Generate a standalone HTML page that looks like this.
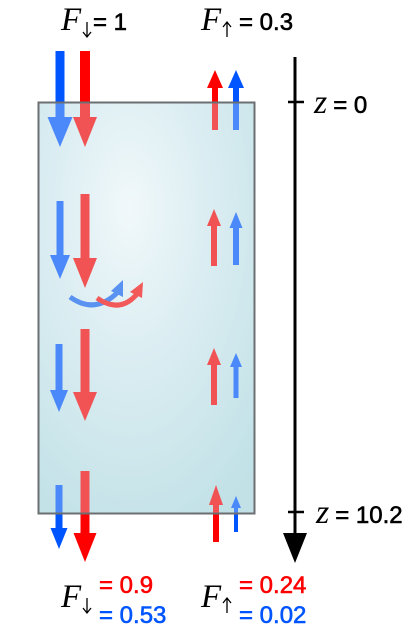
<!DOCTYPE html>
<html><head><meta charset="utf-8"><style>
html,body{margin:0;padding:0;background:#fff;width:415px;height:633px;overflow:hidden}
svg text{font-family:"Liberation Sans",sans-serif}
.b{stroke-width:0.6}
.f{font-family:"Liberation Serif",serif;font-style:italic}
</style></head><body>
<svg id="c" width="415" height="633" viewBox="0 0 415 633">
<defs>
<radialGradient id="g" cx="0.42" cy="0.26" r="0.85">
<stop offset="0" stop-color="#ffffff"/>
<stop offset="0.45" stop-color="#dceef2"/>
<stop offset="1" stop-color="#b5dce2"/>
</radialGradient>
</defs>
<rect x="38.5" y="102.5" width="216" height="411" fill="url(#g)"/>
<g id="arrows"></g>
<rect x="38.5" y="102.5" width="216" height="411" fill="#d8ecf0" fill-opacity="0.35" stroke="#6b6f72" stroke-width="2"/>
<g fill="none" stroke-width="5">
<path d="M70 297 Q95 315 118 292" stroke="#5a92f2"/>
<polygon points="123,280 111,291 123,297" fill="#5a92f2" stroke="none"/>
<path d="M97 298 Q120 314 137 294" stroke="#f25a5a"/>
<polygon points="143,282 130,292 142,298" fill="#f25a5a" stroke="none"/>
</g>
<g>
<line x1="295" y1="57" x2="295" y2="537" stroke="#000" stroke-width="3"/>
<polygon points="283,533 307,533 295,563" fill="#000"/>
<line x1="288" y1="102" x2="304" y2="102" stroke="#000" stroke-width="2.5"/>
<line x1="288" y1="512" x2="304" y2="512" stroke="#000" stroke-width="2.5"/>
<text x="314" y="113"><tspan class="f" font-size="34">z</tspan><tspan font-size="24" dx="6" class="b" stroke="#000">= 0</tspan></text>
<text x="316" y="523"><tspan class="f" font-size="34">z</tspan><tspan font-size="24" dx="6" class="b" stroke="#000">= 10.2</tspan></text>
</g>
<g stroke="#000" stroke-width="1.3" fill="none">
<path d="M87 22 V37 M83 32 L87 37 L91 32"/>
<path d="M227 37 V22 M223 27 L227 22 L231 27"/>
<path d="M87 598 V613 M83 608 L87 613 L91 608"/>
<path d="M227 613 V598 M223 603 L227 598 L231 603"/>
</g>
<g>
<text x="61" y="30" class="f" font-size="33">F</text>
<text x="93" y="30" font-size="24" class="b" stroke="#000">= 1</text>
<text x="201" y="30" class="f" font-size="33">F</text>
<text x="239" y="30" font-size="24" class="b" stroke="#000">= 0.3</text>
</g>
<g>
<text x="61" y="607" class="f" font-size="33">F</text>
<text x="99" y="593" font-size="24" fill="#ff0000" stroke="#ff0000" class="b">= 0.9</text>
<text x="99" y="623" font-size="24" fill="#0055ff" stroke="#0055ff" class="b">= 0.53</text>
<text x="201" y="607" class="f" font-size="33">F</text>
<text x="239" y="593" font-size="24" fill="#ff0000" stroke="#ff0000" class="b">= 0.24</text>
<text x="239" y="623" font-size="24" fill="#0055ff" stroke="#0055ff" class="b">= 0.02</text>
</g>
</svg>
<script>
// arrows: [x center, y tail, y tip, shaft width, head width, head length]
const downBlue=[[60,51,147,9,25,30],[60,201,279,7,20,24],[59,344,412,7,18,22],[59,485,549,7,17,21]];
const downRed=[[85,51,147,10,24,30],[85,194,288,9,24,30],[85,329,421,9,24,29],[85,471,562,9,23,29]];
const upRed=[[215,130,70,6,16,18],[214,266,209,6,14,17],[214,405,348,6,14,17],[216,542,485,6,14,20]];
const upBlue=[[236,130,70,6,16,18],[236,265,212,6,13,16],[236,398,353,5,12,14],[236,532,496,4,10,12]];
const g=document.getElementById('arrows');
function draw(list,color,name){
  list.forEach((a,i)=>{
    const [x,y0,y1,w,hw,hl]=a;
    const d=y1>y0?1:-1;
    const hb=y1-d*hl;
    const p=document.createElementNS('http://www.w3.org/2000/svg','polygon');
    const pts=[[x-w/2,y0],[x+w/2,y0],[x+w/2,hb],[x+hw/2,hb],[x,y1],[x-hw/2,hb],[x-w/2,hb]];
    p.setAttribute('points',pts.map(q=>q.join(',')).join(' '));
    p.setAttribute('fill',color);
    
    
    g.appendChild(p);
  });
}
draw(downBlue,'#0055ff','down-blue-arrow');
draw(downRed,'#ff0000','down-red-arrow');
draw(upRed,'#ff0000','up-red-arrow');
draw(upBlue,'#0055ff','up-blue-arrow');
</script>
</body></html>
